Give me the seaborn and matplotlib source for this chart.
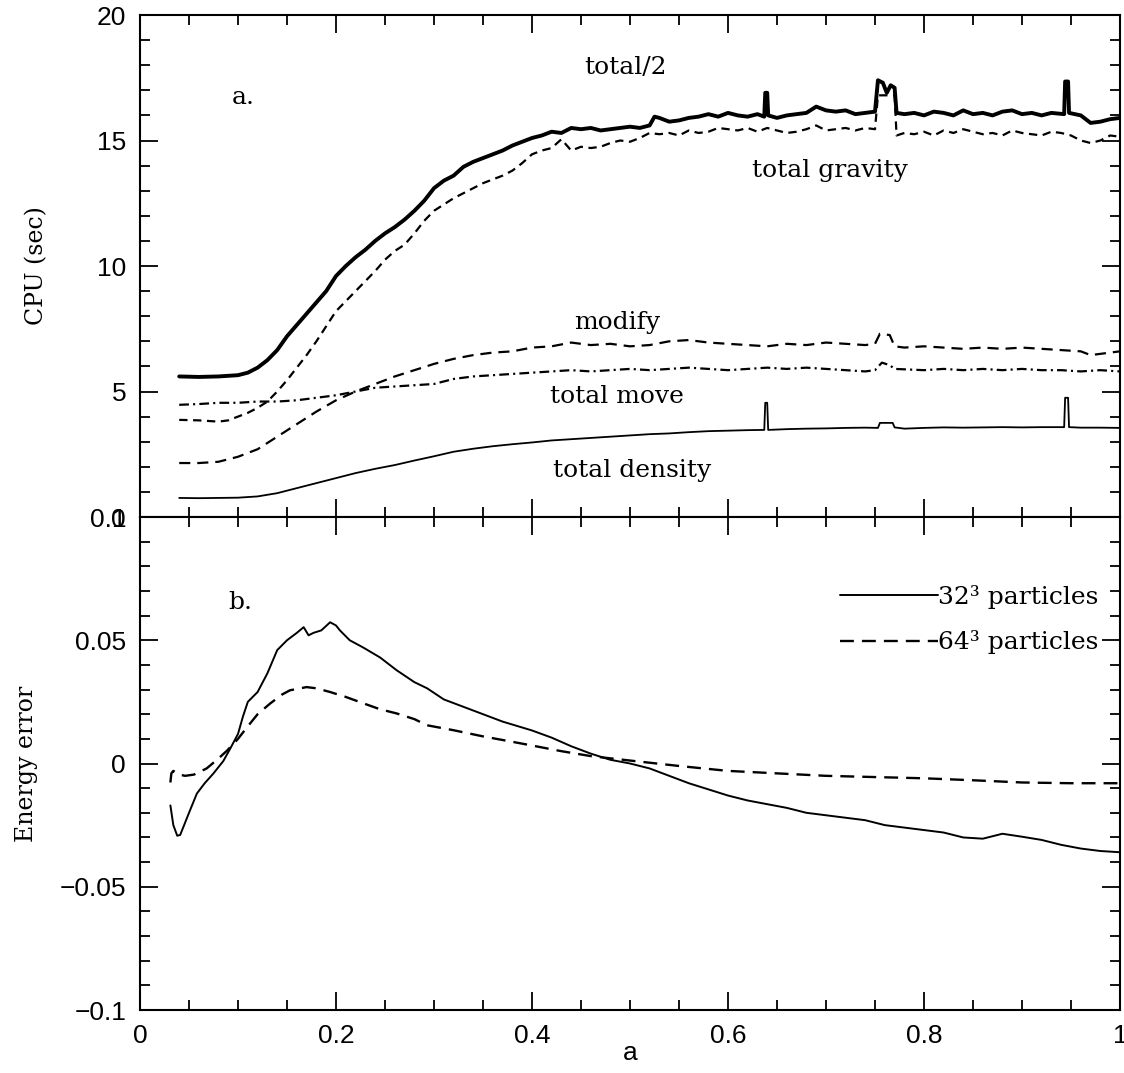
import numpy as np
import pandas as pd
import matplotlib
matplotlib.use("Agg")
import matplotlib.pyplot as plt
from matplotlib import font_manager
from matplotlib.ticker import MultipleLocator, FixedLocator, FixedFormatter
import seaborn as sns

# ---------------- data: panel a (CPU seconds) ----------------
tot2_x = [0.04, 0.06, 0.08, 0.10, 0.11, 0.12, 0.13, 0.14, 0.15, 0.16, 0.17, 0.18, 0.19, 0.20,
          0.21, 0.22, 0.23, 0.24, 0.25, 0.26, 0.27, 0.28, 0.29, 0.30, 0.31, 0.32, 0.33, 0.34,
          0.35, 0.36, 0.37, 0.38, 0.39, 0.40, 0.41, 0.42, 0.43, 0.44, 0.45, 0.46, 0.47, 0.48,
          0.49, 0.50, 0.51, 0.52, 0.525, 0.53, 0.54, 0.55, 0.56, 0.57, 0.58, 0.59, 0.60, 0.61,
          0.62, 0.63, 0.637, 0.638, 0.640, 0.641, 0.65, 0.66, 0.67, 0.68, 0.69, 0.70, 0.71, 0.72,
          0.73, 0.74, 0.75, 0.753, 0.758, 0.762, 0.766, 0.770, 0.772, 0.78, 0.79, 0.80, 0.81,
          0.82, 0.83, 0.84, 0.85, 0.86, 0.87, 0.88, 0.89, 0.90, 0.91, 0.92, 0.93, 0.943, 0.944,
          0.947, 0.948, 0.96, 0.97, 0.98, 0.99, 1.0]
tot2_y = [5.6, 5.58, 5.6, 5.65, 5.75, 5.95, 6.25, 6.65, 7.2, 7.65, 8.1, 8.55, 9.0, 9.6,
          10.0, 10.35, 10.65, 11.0, 11.3, 11.55, 11.85, 12.2, 12.6, 13.1, 13.4, 13.6, 13.95, 14.15,
          14.3, 14.45, 14.6, 14.8, 14.95, 15.1, 15.2, 15.35, 15.3, 15.5, 15.45, 15.5, 15.4, 15.45,
          15.5, 15.55, 15.5, 15.6, 15.95, 15.9, 15.75, 15.8, 15.9, 15.95, 16.05, 15.95, 16.1, 16.0,
          15.95, 16.05, 15.95, 16.9, 16.9, 16.0, 15.9, 16.0, 16.05, 16.1, 16.35, 16.2, 16.15, 16.2,
          16.05, 16.1, 16.15, 17.4, 17.3, 16.9, 17.2, 17.1, 16.1, 16.05, 16.1, 16.0, 16.15,
          16.1, 16.0, 16.2, 16.05, 16.1, 16.0, 16.15, 16.2, 16.05, 16.1, 16.0, 16.1, 16.05, 17.35,
          17.35, 16.1, 16.0, 15.7, 15.75, 15.85, 15.9]

grav_x = [0.04, 0.06, 0.08, 0.09, 0.10, 0.11, 0.12, 0.13, 0.14, 0.15, 0.16, 0.17, 0.18, 0.19,
          0.20, 0.21, 0.22, 0.23, 0.24, 0.25, 0.26, 0.27, 0.28, 0.29, 0.30, 0.31, 0.32, 0.33,
          0.34, 0.35, 0.36, 0.37, 0.38, 0.39, 0.40, 0.41, 0.42, 0.43, 0.44, 0.45, 0.46, 0.47,
          0.48, 0.49, 0.50, 0.51, 0.52, 0.53, 0.54, 0.55, 0.56, 0.57, 0.58, 0.59, 0.60, 0.61,
          0.62, 0.63, 0.64, 0.65, 0.66, 0.67, 0.68, 0.69, 0.70, 0.71, 0.72, 0.73, 0.74, 0.75,
          0.753, 0.770, 0.772, 0.78, 0.79, 0.80, 0.81, 0.82, 0.83, 0.84, 0.85, 0.86, 0.87, 0.88,
          0.89, 0.90, 0.91, 0.92, 0.93, 0.94, 0.95, 0.96, 0.97, 0.98, 0.99, 1.0]
grav_y = [3.87, 3.85, 3.8, 3.85, 4.0, 4.15, 4.35, 4.6, 5.0, 5.45, 5.95, 6.45, 7.0, 7.6,
          8.2, 8.6, 9.0, 9.4, 9.8, 10.25, 10.6, 10.85, 11.3, 11.8, 12.2, 12.45, 12.7, 12.9,
          13.1, 13.3, 13.45, 13.6, 13.8, 14.1, 14.45, 14.6, 14.7, 15.05, 14.6, 14.75, 14.7, 14.75,
          14.9, 15.0, 14.95, 15.1, 15.3, 15.25, 15.3, 15.2, 15.4, 15.3, 15.35, 15.5, 15.45, 15.4,
          15.5, 15.35, 15.5, 15.4, 15.3, 15.35, 15.45, 15.6, 15.4, 15.45, 15.5, 15.4, 15.5, 15.45,
          16.8, 16.8, 15.2, 15.3, 15.25, 15.35, 15.2, 15.4, 15.3, 15.45, 15.35, 15.25, 15.3, 15.2,
          15.4, 15.3, 15.25, 15.2, 15.35, 15.3, 15.2, 15.0, 14.9, 15.0, 15.2, 15.15]

mod_x = [0.04, 0.06, 0.08, 0.10, 0.12, 0.14, 0.16, 0.18, 0.20, 0.22, 0.24, 0.26, 0.28, 0.30,
         0.32, 0.34, 0.36, 0.38, 0.40, 0.42, 0.44, 0.46, 0.48, 0.50, 0.52, 0.54, 0.56, 0.58,
         0.60, 0.62, 0.64, 0.66, 0.68, 0.70, 0.72, 0.74, 0.75, 0.755, 0.765, 0.77, 0.78, 0.80,
         0.82, 0.84, 0.86, 0.88, 0.90, 0.92, 0.94, 0.96, 0.97, 0.98, 1.0]
mod_y = [2.15, 2.15, 2.2, 2.4, 2.7, 3.2, 3.7, 4.2, 4.65, 5.0, 5.3, 5.6, 5.85, 6.1,
         6.3, 6.45, 6.55, 6.6, 6.75, 6.8, 6.95, 6.85, 6.9, 6.8, 6.85, 7.0, 7.05, 6.95,
         6.9, 6.85, 6.8, 6.9, 6.85, 6.95, 6.9, 6.85, 6.9, 7.3, 7.25, 6.8, 6.75, 6.8,
         6.75, 6.7, 6.75, 6.7, 6.75, 6.7, 6.65, 6.6, 6.45, 6.5, 6.6]

move_x = [0.04, 0.06, 0.08, 0.10, 0.12, 0.14, 0.16, 0.18, 0.20, 0.22, 0.24, 0.26, 0.28, 0.30,
          0.32, 0.34, 0.36, 0.38, 0.40, 0.42, 0.44, 0.46, 0.48, 0.50, 0.52, 0.54, 0.56, 0.58,
          0.60, 0.62, 0.64, 0.66, 0.68, 0.70, 0.72, 0.74, 0.75, 0.757, 0.765, 0.77, 0.80, 0.82,
          0.84, 0.86, 0.88, 0.90, 0.92, 0.94, 0.96, 0.98, 1.0]
move_y = [4.47, 4.5, 4.55, 4.55, 4.6, 4.6, 4.65, 4.75, 4.85, 5.0, 5.15, 5.2, 5.25, 5.3,
          5.5, 5.6, 5.65, 5.7, 5.75, 5.8, 5.85, 5.8, 5.85, 5.9, 5.85, 5.9, 5.95, 5.9,
          5.85, 5.9, 5.95, 5.9, 5.95, 5.9, 5.85, 5.8, 5.85, 6.15, 6.05, 5.9, 5.85, 5.9,
          5.85, 5.9, 5.85, 5.9, 5.85, 5.85, 5.8, 5.85, 5.8]

dens_x = [0.04, 0.06, 0.08, 0.10, 0.12, 0.14, 0.16, 0.18, 0.20, 0.22, 0.24, 0.26, 0.28, 0.30,
          0.32, 0.34, 0.36, 0.38, 0.40, 0.42, 0.44, 0.46, 0.48, 0.50, 0.52, 0.54, 0.56, 0.58,
          0.60, 0.62, 0.637, 0.638, 0.640, 0.641, 0.66, 0.68, 0.70, 0.72, 0.74, 0.753, 0.755,
          0.768, 0.77, 0.78, 0.80, 0.82, 0.84, 0.86, 0.88, 0.90, 0.92, 0.943, 0.944, 0.947,
          0.948, 0.96, 0.98, 1.0]
dens_y = [0.76, 0.75, 0.76, 0.77, 0.82, 0.95, 1.15, 1.35, 1.55, 1.75, 1.92, 2.07, 2.25, 2.42,
          2.6, 2.72, 2.82, 2.9, 2.97, 3.05, 3.1, 3.15, 3.2, 3.25, 3.3, 3.33, 3.38, 3.42,
          3.44, 3.46, 3.47, 4.55, 4.55, 3.47, 3.5, 3.52, 3.53, 3.55, 3.56, 3.55, 3.75,
          3.75, 3.57, 3.52, 3.55, 3.57, 3.56, 3.57, 3.58, 3.57, 3.58, 3.58, 4.75, 4.75,
          3.58, 3.56, 3.56, 3.55]

# ---------------- data: panel b (energy error) ----------------
e32_x = [0.031, 0.034, 0.038, 0.041, 0.044, 0.05, 0.058, 0.066, 0.075, 0.085, 0.092, 0.10,
         0.105, 0.11, 0.12, 0.13, 0.14, 0.15, 0.16, 0.167, 0.172, 0.177, 0.185, 0.194, 0.20,
         0.204, 0.214, 0.228, 0.245, 0.262, 0.28, 0.293, 0.31, 0.33, 0.35, 0.37, 0.40, 0.42,
         0.44, 0.46, 0.48, 0.50, 0.52, 0.54, 0.56, 0.58, 0.60, 0.62, 0.64, 0.66, 0.68, 0.70,
         0.72, 0.74, 0.76, 0.78, 0.80, 0.82, 0.84, 0.86, 0.88, 0.90, 0.92, 0.94, 0.96, 0.98, 1.0]
e32_y = [-0.017, -0.025, -0.0293, -0.029, -0.026, -0.020, -0.0122, -0.008, -0.004, 0.001, 0.006, 0.012,
         0.019, 0.025, 0.029, 0.0366, 0.046, 0.050, 0.053, 0.0553, 0.052, 0.053, 0.054, 0.0573, 0.056,
         0.054, 0.050, 0.047, 0.043, 0.0378, 0.033, 0.0305, 0.026, 0.023, 0.020, 0.017, 0.0134, 0.0105,
         0.007, 0.004, 0.0015, 0.0, -0.002, -0.005, -0.008, -0.0105, -0.013, -0.015, -0.0165, -0.018, -0.020, -0.021,
         -0.022, -0.023, -0.025, -0.026, -0.027, -0.028, -0.030, -0.0305, -0.0285, -0.0297, -0.031, -0.033, -0.0345, -0.0355, -0.036]

e64_x = [0.031, 0.032, 0.034, 0.040, 0.046, 0.055, 0.068, 0.08, 0.089, 0.10, 0.109, 0.12,
         0.133, 0.145, 0.153, 0.17, 0.18, 0.194, 0.21, 0.228, 0.245, 0.262, 0.28, 0.293,
         0.32, 0.35, 0.38, 0.40, 0.43, 0.46, 0.50, 0.55, 0.60, 0.65, 0.70, 0.75, 0.80,
         0.85, 0.90, 0.95, 1.0]
e64_y = [-0.0077, -0.004, -0.003, -0.0045, -0.005, -0.0045, -0.002, 0.002, 0.0053, 0.010, 0.0146, 0.020,
         0.0244, 0.028, 0.0297, 0.031, 0.0305, 0.029, 0.027, 0.0244, 0.022, 0.0203, 0.018, 0.0155,
         0.0135, 0.011, 0.0088, 0.0073, 0.005, 0.003, 0.0012, -0.001, -0.003, -0.004, -0.005, -0.0055, -0.006,
         -0.0068, -0.0077, -0.008, -0.008]

top_yticks = [0, 5, 10, 15, 20]
top_ylabels = ["0", "5", "10", "15", "20"]
bot_yticks = [-0.1, -0.05, 0, 0.05, 0.1]
bot_ylabels = ["\u22120.1", "\u22120.05", "0", "0.05", "0.1"]
xticks = [0, 0.2, 0.4, 0.6, 0.8, 1.0]
xlabels = ["0", "0.2", "0.4", "0.6", "0.8", "1"]

# ---------------- style ----------------
sns.set_theme(style="ticks")
names = {f.name for f in font_manager.fontManager.ttflist}
TICKFONT = "Liberation Sans Narrow" if "Liberation Sans Narrow" in names else "Liberation Sans"
SERIF = "DejaVu Serif"
plt.rcParams["font.family"] = [SERIF, "DejaVu Sans"]
plt.rcParams["lines.scale_dashes"] = False
plt.rcParams["axes.linewidth"] = 1.5

fig = plt.figure(figsize=(11.24, 10.73), dpi=100)
ax1 = fig.add_axes([0.12456, 0.51817, 0.87189, 0.46785])
ax2 = fig.add_axes([0.12456, 0.05871, 0.87189, 0.45946])

K = "black"
sns.lineplot(x=tot2_x, y=tot2_y, ax=ax1, color=K, linewidth=2.8, estimator=None, sort=False)
sns.lineplot(x=grav_x, y=grav_y, ax=ax1, color=K, linewidth=1.6, estimator=None, sort=False,
             linestyle=(0, (6, 4)))
sns.lineplot(x=mod_x, y=mod_y, ax=ax1, color=K, linewidth=1.6, estimator=None, sort=False,
             linestyle=(0, (8, 5)))
sns.lineplot(x=move_x, y=move_y, ax=ax1, color=K, linewidth=1.6, estimator=None, sort=False,
             linestyle=(0, (7, 3, 1.5, 3)))
sns.lineplot(x=dens_x, y=dens_y, ax=ax1, color=K, linewidth=1.3, estimator=None, sort=False)

sns.lineplot(x=e32_x, y=e32_y, ax=ax2, color=K, linewidth=1.4, estimator=None, sort=False,
             label="32\u00b3 particles")
sns.lineplot(x=e64_x, y=e64_y, ax=ax2, color=K, linewidth=1.7, estimator=None, sort=False,
             linestyle=(0, (10, 5.8)), label="64\u00b3 particles")

# limits & ticks
for ax in (ax1, ax2):
    ax.set_xlim(0, 1)
    ax.xaxis.set_major_locator(FixedLocator(xticks))
    ax.xaxis.set_minor_locator(MultipleLocator(0.05))
    ax.tick_params(which="both", direction="in", top=True, right=True, bottom=True, left=True,
                   width=1.3, color=K)
    ax.tick_params(which="major", length=13, pad=10)
    ax.tick_params(which="minor", length=7)
    for s in ax.spines.values():
        s.set_color(K)
        s.set_linewidth(1.5)
        s.set_visible(True)
    ax.set_facecolor("white")

ax1.set_ylim(0, 20)
ax1.yaxis.set_major_locator(FixedLocator(top_yticks))
ax1.yaxis.set_major_formatter(FixedFormatter(top_ylabels))
ax1.yaxis.set_minor_locator(MultipleLocator(1))
ax1.tick_params(axis="x", labelbottom=False)

ax2.set_ylim(-0.1, 0.1)
ax2.yaxis.set_major_locator(FixedLocator(bot_yticks))
ax2.yaxis.set_major_formatter(FixedFormatter(bot_ylabels))
ax2.yaxis.set_minor_locator(MultipleLocator(0.01))
ax2.xaxis.set_major_formatter(FixedFormatter(xlabels))

for ax in (ax1, ax2):
    for lab in ax.get_xticklabels() + ax.get_yticklabels():
        lab.set_fontfamily(TICKFONT)
        lab.set_fontsize(19)
        lab.set_color(K)

ax1.set_ylabel("CPU (sec)", fontsize=17, color=K, family=SERIF)
ax1.yaxis.set_label_coords(-0.094, 0.5)
ax2.set_ylabel("Energy error", fontsize=17, color=K, family=SERIF)
ax2.yaxis.set_label_coords(-0.104, 0.5)
ax2.set_xlabel("a", fontsize=19, color=K, family=TICKFONT)
ax2.xaxis.set_label_coords(0.5, -0.062)

# annotations
tk = dict(color=K, family=SERIF, ha="center", va="center", fontsize=18)
ax1.text(0.495, 17.9, "total/2", **tk)
ax1.text(0.105, 16.7, "a.", **tk)
ax1.text(0.704, 13.8, "total gravity", **tk)
ax1.text(0.487, 7.73, "modify", **tk)
ax1.text(0.487, 4.8, "total move", **tk)
ax1.text(0.502, 1.87, "total density", **tk)
ax2.text(0.102, 0.0654, "b.", **tk)

leg = ax2.legend(loc="upper right", bbox_to_anchor=(0.978, 0.862), frameon=False,
                 handlelength=3.92, handletextpad=0.0, labelspacing=0.85, borderpad=0.0,
                 borderaxespad=0.0, prop={"family": SERIF, "size": 18})
for t in leg.get_texts():
    t.set_color(K)

fig.savefig("out.png", dpi=100, facecolor="white")
